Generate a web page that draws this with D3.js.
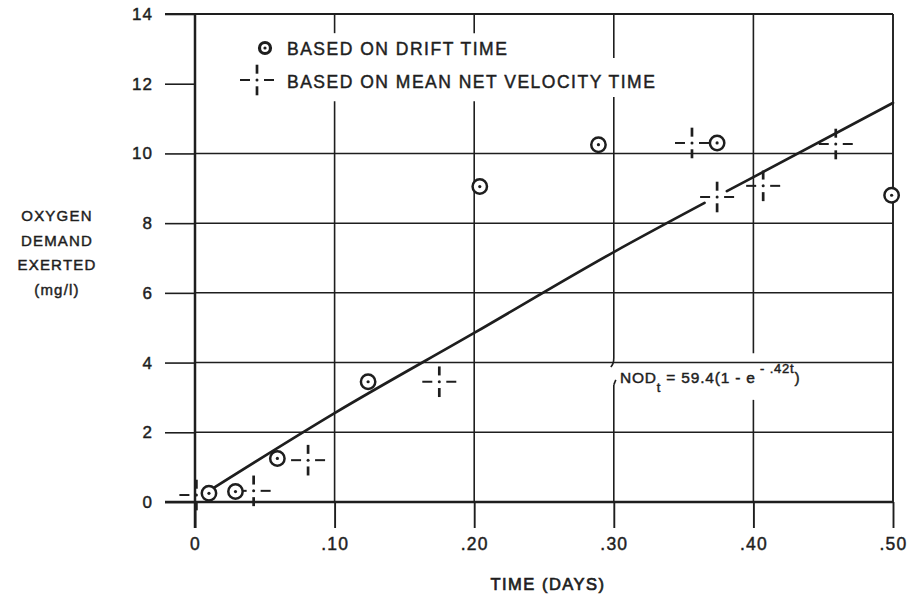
<!DOCTYPE html>
<html>
<head>
<meta charset="utf-8">
<script src="https://cdn.jsdelivr.net/npm/d3@7"></script>
<style>
  html, body { margin: 0; padding: 0; background: #fff; }
  svg { display: block; }
  text { font-family: "Liberation Sans", Arial, Helvetica, sans-serif; fill: #1e1e1e; stroke: #1e1e1e; stroke-width: 0.45px; }
</style>
</head>
<body>
<svg id="chart" width="908" height="606"></svg>
<script>
// ---- data ----
const xTicks = [0, 0.1, 0.2, 0.3, 0.4, 0.5];
const xTickLabels = ["0", ".10", ".20", ".30", ".40", ".50"];
const yTicks = [0, 2, 4, 6, 8, 10, 12, 14];
const yTickLabels = ["0", "2", "4", "6", "8", "10", "12", "14"];
const yGridValues = [2, 4, 6, 8, 10];

// based on drift time (circles): [time (days), oxygen demand (mg/l)]
const driftTime = [
  [0.010, 0.25], [0.029, 0.30], [0.059, 1.25], [0.124, 3.45],
  [0.204, 9.05], [0.289, 10.25], [0.374, 10.30], [0.499, 8.80]
];
// based on mean net velocity time (crosses)
const meanNetVelocityTime = [
  [0.001, 0.20], [0.042, 0.32], [0.081, 1.20], [0.175, 3.45],
  [0.356, 10.30], [0.374, 8.75], [0.407, 9.07], [0.459, 10.27]
];
// fitted curve NOD_t = 59.4(1 - e^-.42t) (two pieces, broken at a marker)
const fitCurveA = [[0.012, 0.37], [0.10, 2.55], [0.20, 4.85], [0.30, 7.17], [0.365, 8.58]];
const fitCurveB = [[0.381, 8.92], [0.40, 9.32], [0.50, 11.45]];

const legendLabels = ["BASED ON DRIFT TIME", "BASED ON MEAN NET VELOCITY TIME"];
const yTitleLines = ["OXYGEN", "DEMAND", "EXERTED", "(mg/l)"];
const xTitle = "TIME (DAYS)";

// ---- layout ----
const svg = d3.select("#chart");
const ink = "#1e1e1e";
const x = d3.scaleLinear().domain([0, 0.5]).range([195, 893]);
const y = d3.scaleLinear().domain([0, 14]).range([502, 14]);

// vertical gridline gaps (in data units of y) where the original leaves blank space
const vGaps = {
  0.1: [[11.5, 13.45]],
  0.2: [[11.5, 13.45]],
  0.3: [[11.62, 12.74], [3.36, 4.13]],
  0.4: [[2.93, 4.27]]
};

const g = svg.append("g");

// horizontal gridlines
g.selectAll("line.hgrid").data(yGridValues).enter().append("line")
  .attr("x1", x(0)).attr("x2", x(0.5))
  .attr("y1", d => y(d)).attr("y2", d => y(d))
  .attr("stroke", ink).attr("stroke-width", 1.5);

// vertical gridlines with gaps
xTicks.slice(1, 5).forEach(t => {
  const gaps = (vGaps[t] || []).slice().sort((a, b) => b[1] - a[1]);
  let top = 14;
  const segs = [];
  gaps.forEach(([lo, hi]) => { segs.push([hi, top]); top = lo; });
  segs.push([0, top]);
  segs.forEach(([a, b]) => {
    g.append("line").attr("x1", x(t)).attr("x2", x(t))
      .attr("y1", y(a)).attr("y2", y(b))
      .attr("stroke", ink).attr("stroke-width", 1.6);
  });
});

// little hooks at the ends of the 0.3 gridline around the annotation
g.append("path")
  .attr("d", `M${x(0.3)},${y(4.13)} q0,6 -3,9`)
  .attr("fill", "none").attr("stroke", ink).attr("stroke-width", 1.6);
g.append("path")
  .attr("d", `M${x(0.3)},${y(3.36)} l2,-5`)
  .attr("fill", "none").attr("stroke", ink).attr("stroke-width", 1.6);

// frame: left axis, bottom axis, top line, right line
const frameW = 2.5;
g.append("line").attr("x1", x(0)).attr("x2", x(0)).attr("y1", y(14)).attr("y2", y(0) + 26)
  .attr("stroke", ink).attr("stroke-width", frameW);
g.append("line").attr("x1", x(0) - 30).attr("x2", x(0.5)).attr("y1", y(0)).attr("y2", y(0))
  .attr("stroke", ink).attr("stroke-width", frameW);
g.append("line").attr("x1", x(0) - 30).attr("x2", x(0.5)).attr("y1", y(14)).attr("y2", y(14))
  .attr("stroke", ink).attr("stroke-width", 1.9);
g.append("line").attr("x1", x(0.5)).attr("x2", x(0.5)).attr("y1", y(14)).attr("y2", y(0))
  .attr("stroke", ink).attr("stroke-width", 1.9);

// y axis via d3 axis (ticks to the left)
const yAxis = d3.axisLeft(y).tickValues(yTicks)
  .tickFormat((d, i) => yTickLabels[i]).tickSize(30).tickPadding(12);
const yAx = svg.append("g").attr("transform", `translate(${x(0)},0)`).call(yAxis);
yAx.select(".domain").remove();
yAx.selectAll(".tick line").attr("stroke", ink).attr("stroke-width", 1.6);
yAx.selectAll(".tick text")
  .style("font-family", '"Liberation Sans", Arial, sans-serif')
  .style("font-size", "17px").style("letter-spacing", "1px")
  .attr("fill", ink).attr("stroke", ink).attr("stroke-width", 0.45);

// x axis via d3 axis (ticks below)
const xAxis = d3.axisBottom(x).tickValues(xTicks)
  .tickFormat((d, i) => xTickLabels[i]).tickSize(26).tickPadding(10);
const xAx = svg.append("g").attr("transform", `translate(0,${y(0)})`).call(xAxis);
xAx.select(".domain").remove();
xAx.selectAll(".tick line").attr("stroke", ink).attr("stroke-width", 1.9);
xAx.selectAll(".tick text")
  .style("font-family", '"Liberation Sans", Arial, sans-serif')
  .style("font-size", "17.5px").style("letter-spacing", "1.2px")
  .attr("fill", ink).attr("stroke", ink).attr("stroke-width", 0.45);

// fitted curve
const line = d3.line().x(d => x(d[0])).y(d => y(d[1])).curve(d3.curveMonotoneX);
[fitCurveA, fitCurveB].forEach(seg => {
  g.append("path").attr("d", line(seg)).attr("fill", "none")
    .attr("stroke", ink).attr("stroke-width", 2.7).attr("stroke-linecap", "round");
});

// markers
function circleMarker(sel, cx, cy, r, sw) {
  sel.append("circle").attr("cx", cx).attr("cy", cy).attr("r", r)
    .attr("fill", "#fff").attr("stroke", ink).attr("stroke-width", sw || 2.5);
  sel.append("circle").attr("cx", cx).attr("cy", cy).attr("r", 1.6).attr("fill", ink);
}
function crossMarker(sel, cx, cy) {
  const w = 2;
  [[-17, -7], [7, 17]].forEach(([a, b]) => {
    sel.append("line").attr("x1", cx + a).attr("x2", cx + b).attr("y1", cy).attr("y2", cy)
      .attr("stroke", ink).attr("stroke-width", w);
    sel.append("line").attr("x1", cx).attr("x2", cx).attr("y1", cy + a * 0.9).attr("y2", cy + b * 0.9)
      .attr("stroke", ink).attr("stroke-width", w + 0.7);
  });
  sel.append("circle").attr("cx", cx).attr("cy", cy).attr("r", 1.5).attr("fill", ink);
}

const markers = svg.append("g");
meanNetVelocityTime.forEach(d => crossMarker(markers, x(d[0]), y(d[1])));
driftTime.forEach(d => circleMarker(markers, x(d[0]), y(d[1]), 7.2));

// legend
const leg = svg.append("g");
circleMarker(leg, 265, 48, 5.5, 3.2);
crossMarker(leg, 257, 80);
leg.selectAll("text").data(legendLabels).enter().append("text")
  .attr("x", 287).attr("y", (d, i) => 55 + i * 33)
  .style("font-size", "17.5px").style("letter-spacing", "1.5px")
  .text(d => d);

// y title
svg.append("g").selectAll("text").data(yTitleLines).enter().append("text")
  .attr("x", 57).attr("y", (d, i) => 221 + i * 24.5)
  .attr("text-anchor", "middle")
  .style("font-size", "15px").style("letter-spacing", "1.2px")
  .text(d => d);

// x title
svg.append("text").attr("x", 548).attr("y", 590).attr("text-anchor", "middle")
  .style("font-size", "16.5px").style("letter-spacing", "1.5px").style("stroke-width", "0.7px")
  .text(xTitle);

// annotation
const ann = svg.append("text").attr("x", 620).attr("y", 383)
  .style("font-size", "15.5px").style("letter-spacing", "0.8px");
ann.append("tspan").text("NOD");
ann.append("tspan").attr("dy", 9).style("font-size", "13px").text("t");
ann.append("tspan").attr("dy", -9).text(" = 59.4(1 - e");
ann.append("tspan").attr("dy", -10).style("font-size", "13px").text(" - .42t");
ann.append("tspan").attr("dy", 10).text(")");
</script>
</body>
</html>
